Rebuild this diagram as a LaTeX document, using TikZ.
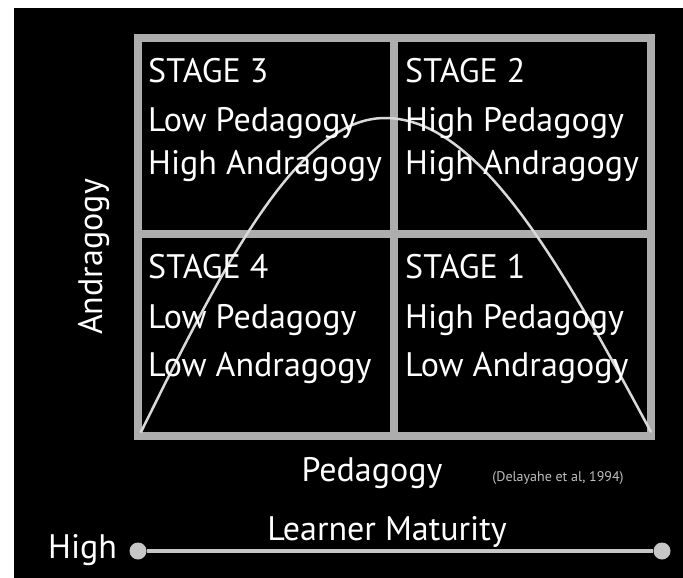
\documentclass[tikz,border=0pt]{standalone}
\usepackage{fontspec}
\setmainfont{PT Sans}
\definecolor{gridgray}{rgb}{0.68,0.68,0.68}
\definecolor{curvegray}{rgb}{0.85,0.85,0.85}
\definecolor{citegray}{rgb}{0.75,0.75,0.75}
\tikzset{
  lbl/.style={text=white, inner sep=0pt, font=\fontsize{34}{37}\selectfont},
  gridline/.style={draw=gridgray, line width=8pt},
  dot/.style={circle, fill=gridgray!70!white, minimum size=17pt, inner sep=0pt},
}
\begin{document}
\begin{tikzpicture}[x=1pt,y=-1pt]
\useasboundingbox (0,0) rectangle (683,578);
\fill[white] (0,0) rectangle (683,578);
\fill[black] (14,8) rectangle (683,578);
% grid
\draw[gridline] (138,38) rectangle (651,436);
\draw[gridline] (394,38) -- (394,436);
\draw[gridline] (138,234) -- (651,234);
% curve
\draw[curvegray, line width=2.5pt, line cap=round]
  plot[domain=0:1, samples=60] ({141+244*\x}, {432-314*sin(90*\x)});
\draw[curvegray, line width=2.5pt, line cap=round]
  plot[domain=0:1, samples=60] ({385+266*\x}, {432-314*cos(90*\x)});
% quadrant texts
\node[lbl, anchor=base west] (s3) at (148,82) {STAGE 3};
\node[lbl, anchor=base west] (s3a) at (148,131) {Low Pedagogy};
\node[lbl, anchor=base west] (s3b) at (148,174) {High Andragogy};
\node[lbl, anchor=base west] (s2) at (405,82) {STAGE 2};
\node[lbl, anchor=base west] (s2a) at (405,131) {High Pedagogy};
\node[lbl, anchor=base west] (s2b) at (405,174) {High Andragogy};
\node[lbl, anchor=base west] (s4) at (148,278) {STAGE 4};
\node[lbl, anchor=base west] (s4a) at (148,328) {Low Pedagogy};
\node[lbl, anchor=base west] (s4b) at (148,376) {Low Andragogy};
\node[lbl, anchor=base west] (s1) at (405,278) {STAGE 1};
\node[lbl, anchor=base west] (s1a) at (405,328) {High Pedagogy};
\node[lbl, anchor=base west] (s1b) at (405,376) {Low Andragogy};
% axes labels
\node[lbl, anchor=base, rotate=90] (andr) at (102,257) {Andragogy};
\node[lbl, anchor=base] (ped) at (372,481) {Pedagogy};
\node[text=citegray, inner sep=0pt, anchor=base, font=\fontsize{14}{16}\selectfont] (cite) at (558,481) {(Delayahe et al, 1994)};
\node[lbl, anchor=base] (lm) at (387,540) {Learner Maturity};
\node[lbl, anchor=base west] (high) at (48,558) {High};
% maturity line
\node[dot] (lo) at (138,551) {};
\node[dot] (hi) at (662,551) {};
\draw[gridgray!70!white, line width=4pt] (lo) -- (hi);
\end{tikzpicture}
\end{document}
